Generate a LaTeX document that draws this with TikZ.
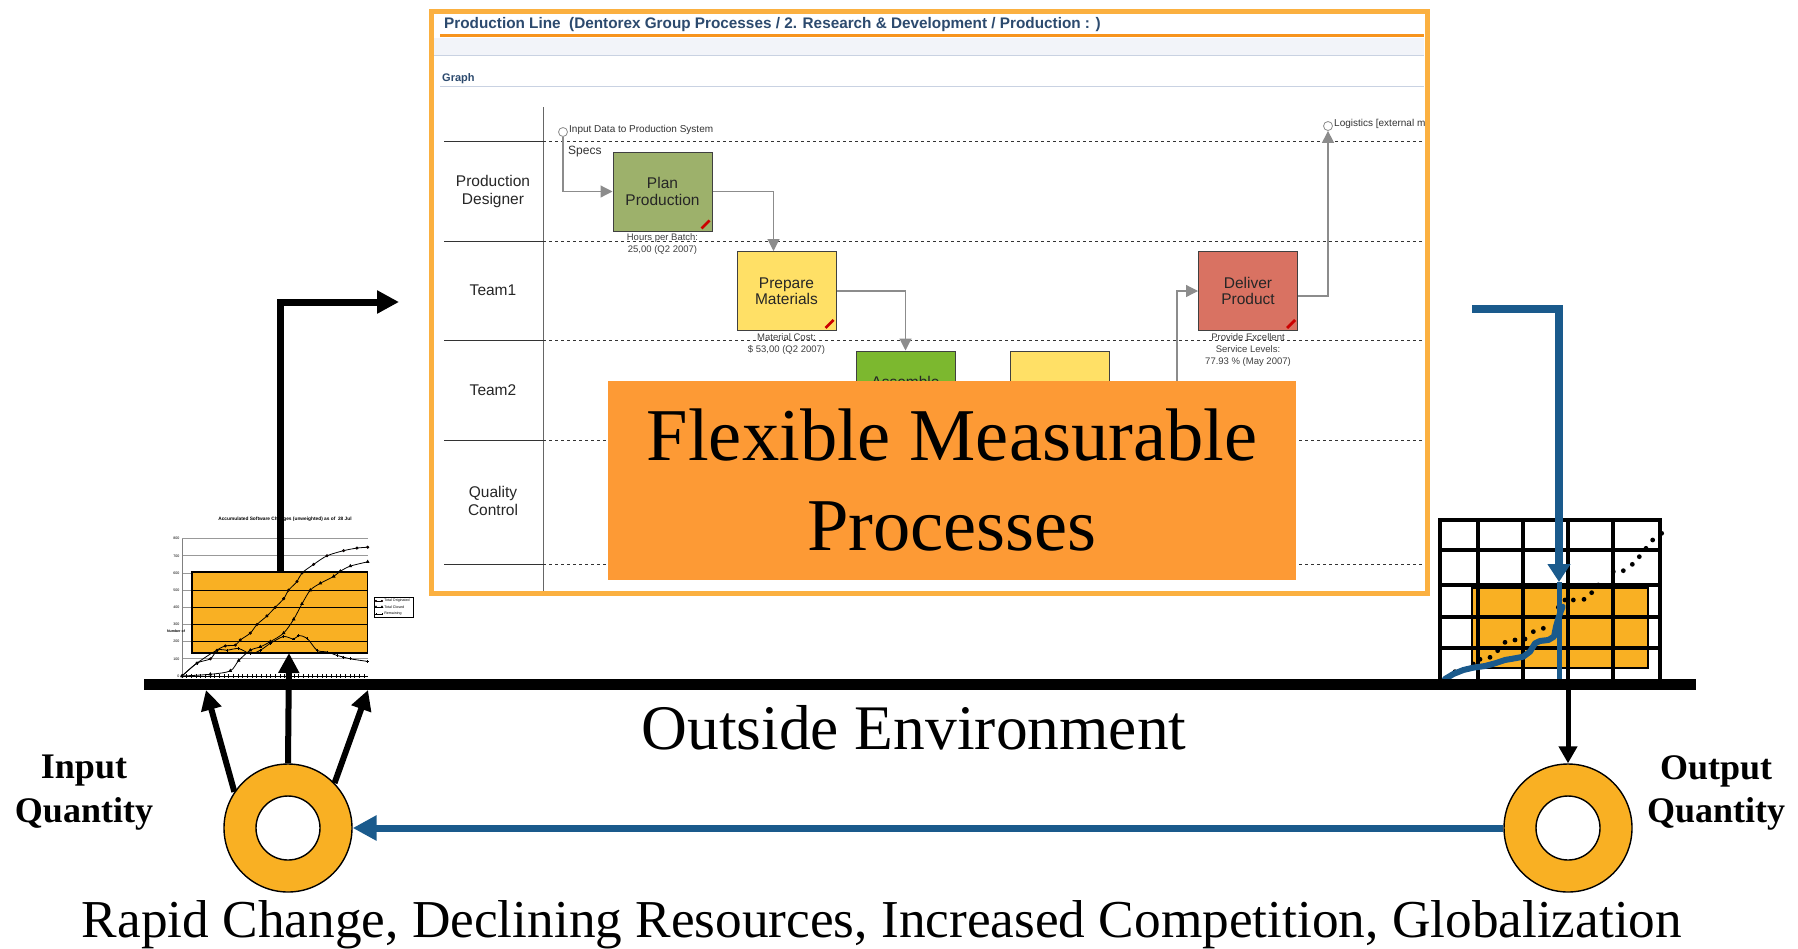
\documentclass[tikz,border=0pt]{standalone}
\usepackage{fontspec}
\setmainfont{Liberation Serif}
\newfontfamily\arialfont{Liberation Sans}
\usetikzlibrary{arrows.meta,plotmarks}

\definecolor{frameorange}{HTML}{FBB040}
\definecolor{lineorange}{HTML}{F7941D}
\definecolor{flexorange}{HTML}{FD9A35}
\definecolor{chartorange}{HTML}{F9B023}
\definecolor{flowblue}{HTML}{1A5A8C}
\definecolor{plangreen}{HTML}{9DB16B}
\definecolor{asmgreen}{HTML}{7CB82F}
\definecolor{prepyellow}{HTML}{FFE066}
\definecolor{delivred}{HTML}{D97262}
\definecolor{titleblue}{HTML}{2C4A6E}
\definecolor{bandgray}{HTML}{F2F4F9}
\definecolor{rulegray}{HTML}{C9D2E2}

\newcommand{\fs}[2]{\fontsize{#1}{#2}\selectfont}
\newcommand{\pencil}[1]{\draw[line width=2.8pt, red!80!black] ([shift={(-11pt,3pt)}]#1.south east) -- ++(8pt,8pt);}

\tikzset{
  task/.style={draw=black!75, line width=1pt, minimum width=99pt, minimum height=79pt, inner sep=2pt, align=center, font=\arialfont\fs{15.5}{16.5}, text=black!85},
  lane/.style={align=center, font=\arialfont\fs{15.5}{18}, text=black!85},
  kpi/.style={align=center, inner sep=0pt, font=\arialfont\fs{9.5}{12}, text=black!75},
  note/.style={anchor=west, inner sep=0pt, font=\arialfont\fs{10}{11}, text=black!80},
  flow/.style={draw=black!45, line width=1.2pt, -{Triangle[length=12pt,width=12pt]}},
  event/.style={circle, draw=black!45, fill=white, line width=0.8pt, minimum size=9pt, inner sep=0pt},
  flexbox/.style={fill=flexorange, minimum width=688pt, minimum height=199pt, inner sep=0pt, align=center, font=\fs{74.5}{90}},
  bigarrow/.style={line width=7pt, -{Triangle[length=22pt,width=22pt]}},
  uparrow/.style={line width=6pt, -{Triangle[length=20pt,width=20pt]}},
  ring/.style={circle, fill=chartorange, draw=black, line width=1.4pt, minimum size=128pt, inner sep=0pt},
  hole/.style={circle, fill=white, draw=black, line width=1.4pt, minimum size=64pt, inner sep=0pt},
  tiny/.style={inner sep=0.5pt, font=\arialfont\fs{3.6}{4}}
}

\begin{document}
\begin{tikzpicture}[x=1pt,y=-1pt]
\useasboundingbox (0,0) rectangle (1798,948);

\begin{scope}
  \clip (434,14) rectangle (1424,590);
  \fill[white] (434,14) rectangle (1424,590);
  \fill[bandgray] (434,38) rectangle (1424,55);
  \draw[rulegray] (434,55) -- (1424,55);
  \draw[lineorange, line width=3pt] (440,35.5) -- (1424,35.5);
  \node[anchor=base west, inner sep=0pt, font=\arialfont\bfseries\fs{15.3}{16}, text=titleblue] (title) at (444,28) {Production Line\ \ (Dentorex Group Processes / 2. Research \& Development / Production : )};
  \node[anchor=base west, inner sep=0pt, font=\arialfont\bfseries\fs{11}{12}, text=titleblue] (graph) at (442,81) {Graph};
  \draw[rulegray, line width=1pt] (440,86.5) -- (1424,86.5);

  \draw[black!60] (543,107) -- (543,592);
  \foreach \y in {141,241,340,440,564}{
    \draw[black!80, line width=0.9pt] (444,\y) -- (543,\y);
    \draw[black!80, line width=0.9pt, dash pattern=on 3pt off 3pt] (543,\y) -- (1424,\y);
  }
  \node[lane] (pd) at (493,191) {Production\\Designer};
  \node[lane] (t1) at (493,290) {Team1};
  \node[lane] (t2) at (493,390) {Team2};
  \node[lane] (qc) at (493,501) {Quality\\Control};

  \node[task, fill=plangreen] (plan) at (662.5,191.5) {Plan\\Production};
  \node[task, fill=prepyellow] (prepare) at (786.5,291) {Prepare\\Materials};
  \node[task, fill=asmgreen] (assemble) at (905.5,390.5) {};
  \node[anchor=base, inner sep=0pt, font=\arialfont\fs{15.5}{16}, text=black!85] (asmlabel) at (905.5,387) {Assemble};
  \node[task, fill=prepyellow] (inspect) at (1059.5,390.5) {};
  \node[task, fill=delivred] (deliver) at (1248,291) {Deliver\\Product};
  \pencil{plan}
  \pencil{prepare}
  \pencil{deliver}

  \node[event] (indata) at (563,132) {};
  \node[note] (indatatext) at (569,130) {Input Data to Production System};
  \node[note, font=\arialfont\fs{12}{13}] (specs) at (568,152) {Specs};
  \node[event] (logistics) at (1328,126) {};
  \node[note] (logtext) at (1334,124) {Logistics [external m};
  \coordinate (dlvin) at (1177,430);

  \draw[flow] (indata.south) |- (plan.west);
  \draw[flow] (plan.east) -| ([xshift=-13pt]prepare.north);
  \draw[flow] (prepare.east) -| (assemble.north);
  \draw[flow] (dlvin) |- (deliver.west);
  \draw[flow] ([yshift=-5pt]deliver.east) -| (logistics.south);

  \node[kpi, anchor=north] (plankpi) at ([yshift=-2pt]plan.south) {Hours per Batch:\\25,00 (Q2 2007)};
  \node[kpi, anchor=north] (prepkpi) at ([yshift=-2pt]prepare.south) {Material Cost:\\\$ 53,00 (Q2 2007)};
  \node[kpi, anchor=north] (delkpi) at ([yshift=-2pt]deliver.south) {Provide Excellent\\Service Levels:\\77.93 \% (May 2007)};
\end{scope}
\draw[frameorange, line width=5pt] (431,11) rectangle (1427,593);

\node[flexbox] (flex) at (952,480.5) {Flexible Measurable\\Processes};

% input chart
\begin{scope}[shift={(182,676)}, x=0.3333pt, y=0.1717pt]
  \node[tiny, font=\arialfont\bfseries\fs{4.8}{5}] (ctitle) at (309,914) {Accumulated Software Changes (unweighted) as of\ \ 28 Jul};
  \foreach \v in {0,100,...,800}{
    \draw[black!40, line width=0.8pt] (0,\v) -- (557,\v);
    \node[tiny, anchor=east] (ylab\v) at (-6,\v) {\v};
  }
  \draw[black!50] (0,0) -- (0,800);
  \node[tiny, font=\arialfont\bfseries\fs{3.6}{4}] (cnum) at (-18,262) {Number of};
  \draw[fill=chartorange, line width=1.6pt] (30,135) rectangle (557,605);
  \foreach \v in {200,300,400,500}
    \draw[line width=1.2pt] (30,\v) -- (557,\v);
  \draw[line width=0.6pt] (0,0) -- (557,0);
  \foreach \i in {0,14,...,556}
    \draw[line width=0.5pt] (\i,-12) -- (\i,12);
  \draw[line width=0.8pt] plot[smooth, mark=*, mark size=1.1pt, mark options={fill=red!60!black}] coordinates {(0,0) (45,75) (85,100) (105,150) (130,175) (160,180) (175,210) (205,250) (225,300) (255,350) (280,400) (305,450) (320,500) (345,550) (360,600) (395,650) (435,700) (485,730) (525,745) (557,750)};
  \draw[line width=0.8pt] plot[smooth, mark=triangle*, mark size=1.4pt] coordinates {(0,0) (85,10) (145,30) (170,90) (205,150) (235,170) (265,200) (305,250) (335,330) (360,420) (385,500) (415,540) (455,580) (475,610) (505,640) (557,665)};
  \draw[line width=0.8pt] plot[smooth, mark=+, mark size=1.4pt] coordinates {(0,0) (45,75) (105,150) (135,150) (170,160) (205,130) (235,150) (265,190) (305,230) (335,215) (350,235) (375,220) (405,150) (435,140) (465,120) (485,110) (505,100) (557,85)};
  \draw[line width=0.5pt, fill=white] (576,344) rectangle (693,460);
  \draw[line width=0.6pt] plot[mark=*, mark size=0.8pt, mark options={fill=red!60!black}] coordinates {(582,437) (600,437)};
  \draw[line width=0.6pt] plot[mark=triangle*, mark size=1pt] coordinates {(582,402) (600,402)};
  \draw[line width=0.6pt] plot[mark=+, mark size=1pt] coordinates {(582,361) (600,361)};
  \node[tiny, anchor=west] (leg1) at (605,437) {Total Originated};
  \node[tiny, anchor=west] (leg2) at (605,402) {Total Closed};
  \node[tiny, anchor=west] (leg3) at (605,361) {Remaining};
\end{scope}

\coordinate (chtop) at (280,572);
\coordinate (shotin) at (399,302);
\draw[bigarrow] (chtop) |- (shotin);

% output chart
\draw[fill=chartorange, line width=1.6pt] (1472,588) rectangle (1648,668);
\foreach \x in {1478,1523,1568,1613}
  \draw[line width=3.5pt] (\x,520) -- (\x,680);
\foreach \y in {550,585,617,648}
  \draw[line width=3.5pt] (1440,\y) -- (1660,\y);
\draw[line width=4.5pt] (1440,680) |- (1660,520) -- (1660,680);
\begin{scope}[shift={(1430,500)}, x=0.3333pt, y=-0.3333pt]
  \foreach \px/\py in {75/515,130/492,150/478,180/472,203/452,225/427,255/420,285/417,310/395,340/385,385/322,405/300,430/300,462/298,485/278,505/255,550/215,580/212,607/193,628/170,648/145,668/120,695/100}
    \fill (\px,\py) circle (2.4pt);
  \draw[flowblue, line width=6pt, line join=round, line cap=round] plot coordinates {(45,537) (70,522) (100,510) (130,503) (165,498) (195,490) (225,480) (260,474) (280,470) (300,455) (315,430) (330,423) (355,420) (372,410) (378,380) (385,355) (392,335) (398,320)};
\end{scope}
\coordinate (outtap) at (1472,309);
\coordinate (outhit) at (1559,582);
\coordinate (outbase) at (1559,683);
\draw[flowblue, line width=8pt, -{Triangle[length=18pt,width=22pt]}] (outtap) -| (outhit);
\draw[flowblue, line width=5pt] (outhit) -- (outbase);

\coordinate (gl) at (144,684.5);
\coordinate (gr) at (1696,684.5);
\draw[line width=11pt] (gl) -- (gr);

\node[ring] (inq) at (288,828) {};
\node[hole] (inqhole) at (288,828) {};
\node[ring] (outq) at (1568,828) {};
\node[hole] (outqhole) at (1568,828) {};

\draw[flowblue, line width=7pt, -{Triangle[length=24pt,width=24pt]}] (outq.west) -- (inq.east);

\coordinate (inl) at (206,690);
\coordinate (inm) at (289,653);
\coordinate (inr) at (368,690);
\draw[uparrow] (inq.146) -- (inl);
\draw[uparrow] (inq.north) -- (inm);
\draw[uparrow] (inq.44) -- (inr);
\coordinate (outtop) at (1568,690);
\draw[line width=5pt, -{Triangle[length=17pt,width=18pt]}] (outtop) -- (outq.north);

\node[anchor=base, inner sep=0pt, font=\fs{63.5}{70}] (outside) at (914,749) {Outside Environment};
\node[anchor=base, inner sep=0pt, font=\fs{53.3}{58}] (factors) at (882,937) {Rapid Change, Declining Resources, Increased Competition, Globalization};
\node[anchor=north, inner sep=0pt, align=center, font=\bfseries\fs{36}{43.5}] (inqtext) at (84,755) {Input\\Quantity};
\node[anchor=north, inner sep=0pt, align=center, font=\bfseries\fs{36}{43.5}] (outqtext) at (1716,755) {Output\\Quantity};
\end{tikzpicture}
\end{document}
